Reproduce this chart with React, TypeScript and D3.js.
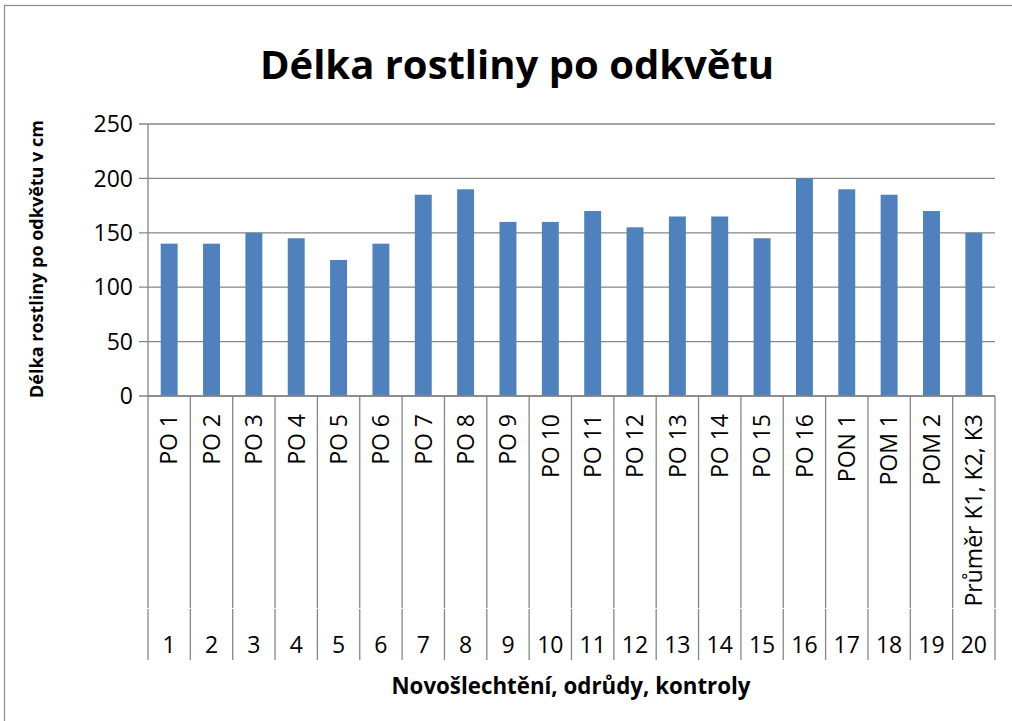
import React from "react";
import * as d3 from "d3";

const categories = [
  "PO 1", "PO 2", "PO 3", "PO 4", "PO 5", "PO 6", "PO 7", "PO 8", "PO 9", "PO 10",
  "PO 11", "PO 12", "PO 13", "PO 14", "PO 15", "PO 16", "PON 1", "POM 1", "POM 2", "Průměr K1, K2, K3",
];
const numbers = ["1","2","3","4","5","6","7","8","9","10","11","12","13","14","15","16","17","18","19","20"];
const values = [140, 140, 150, 145, 125, 140, 185, 190, 160, 160, 170, 155, 165, 165, 145, 200, 190, 185, 170, 150];
const yTicks = [0, 50, 100, 150, 200, 250];

const title = "Délka rostliny po odkvětu";
const yTitle = "Délka rostliny po odkvětu v cm";
const xTitle = "Novošlechtění, odrůdy, kontroly";

export default function App() {
  const W = 1012, H = 721;
  const left = 148, right = 995, top = 124, bottom = 396;
  const lvl1Bottom = 608, lvl2Bottom = 660;
  const font = "'Open Sans', 'DejaVu Sans', sans-serif";
  const grid = "#868686";

  const y = d3.scaleLinear().domain([0, 250]).range([bottom, top]);
  const idx = categories.map((_, i) => String(i));
  const xBars = d3.scaleBand().domain(idx).range([left, right]).paddingInner(0.6).paddingOuter(0.3);
  const xCat = d3.scaleBand().domain(idx).range([left, right]).padding(0);
  const bounds = [...idx.map((d) => xCat(d) as number), right];

  return (
    <svg width={W} height={H} style={{ position: "absolute", left: 0, top: 0, background: "#fff" }} fontFamily={font}>
      <rect x={0} y={0} width={W} height={H} fill="#fff" />
      <rect x={4.5} y={5.5} width={W + 40} height={H + 40} fill="none" stroke="#8c8c8c" strokeWidth={1.2} />
      <text x={517} y={79} textAnchor="middle" fontSize={40} fontWeight="bold" fill="#000">{title}</text>

      {yTicks.map((t) => (
        <g key={t}>
          <line x1={left - 9} x2={right} y1={y(t)} y2={y(t)} stroke={grid} strokeWidth={1.3} />
          <text x={133} y={y(t)} dy="0.36em" textAnchor="end" fontSize={23} fill="#000">{t}</text>
        </g>
      ))}
      <line x1={left} x2={left} y1={top} y2={bottom} stroke={grid} strokeWidth={1.3} />

      {values.map((v, i) => (
        <rect key={i} x={xBars(String(i))} y={y(v)} width={xBars.bandwidth()} height={y(0) - y(v)} fill="#4F81BD" />
      ))}

      {bounds.map((b, i) => (
        <g key={i}>
          <line x1={b} x2={b} y1={bottom} y2={lvl1Bottom} stroke={grid} strokeWidth={1.3} />
          <line x1={b} x2={b} y1={lvl1Bottom + 1} y2={lvl2Bottom} stroke={grid} strokeWidth={1.3} />
        </g>
      ))}
      <line x1={left} x2={right} y1={bottom} y2={bottom} stroke={grid} strokeWidth={1.3} />

      {categories.map((c, i) => {
        const cx = (xCat(String(i)) as number) + xCat.bandwidth() / 2;
        return (
          <text key={c} transform={`translate(${cx},414) rotate(-90)`} dy="0.36em" textAnchor="end" fontSize={23} fill="#000">{c}</text>
        );
      })}
      {numbers.map((n, i) => {
        const cx = (xCat(String(i)) as number) + xCat.bandwidth() / 2;
        return (
          <text key={n} x={cx} y={653} textAnchor="middle" fontSize={23} fill="#000">{n}</text>
        );
      })}

      <text x={571} y={694} textAnchor="middle" fontSize={22.3} fontWeight="bold" fill="#000">{xTitle}</text>
      <text transform={`translate(37,${(top + bottom) / 2 - 1}) rotate(-90)`} dy="0.36em" textAnchor="middle" fontSize={18} fontWeight="bold" fill="#000">{yTitle}</text>
    </svg>
  );
}
